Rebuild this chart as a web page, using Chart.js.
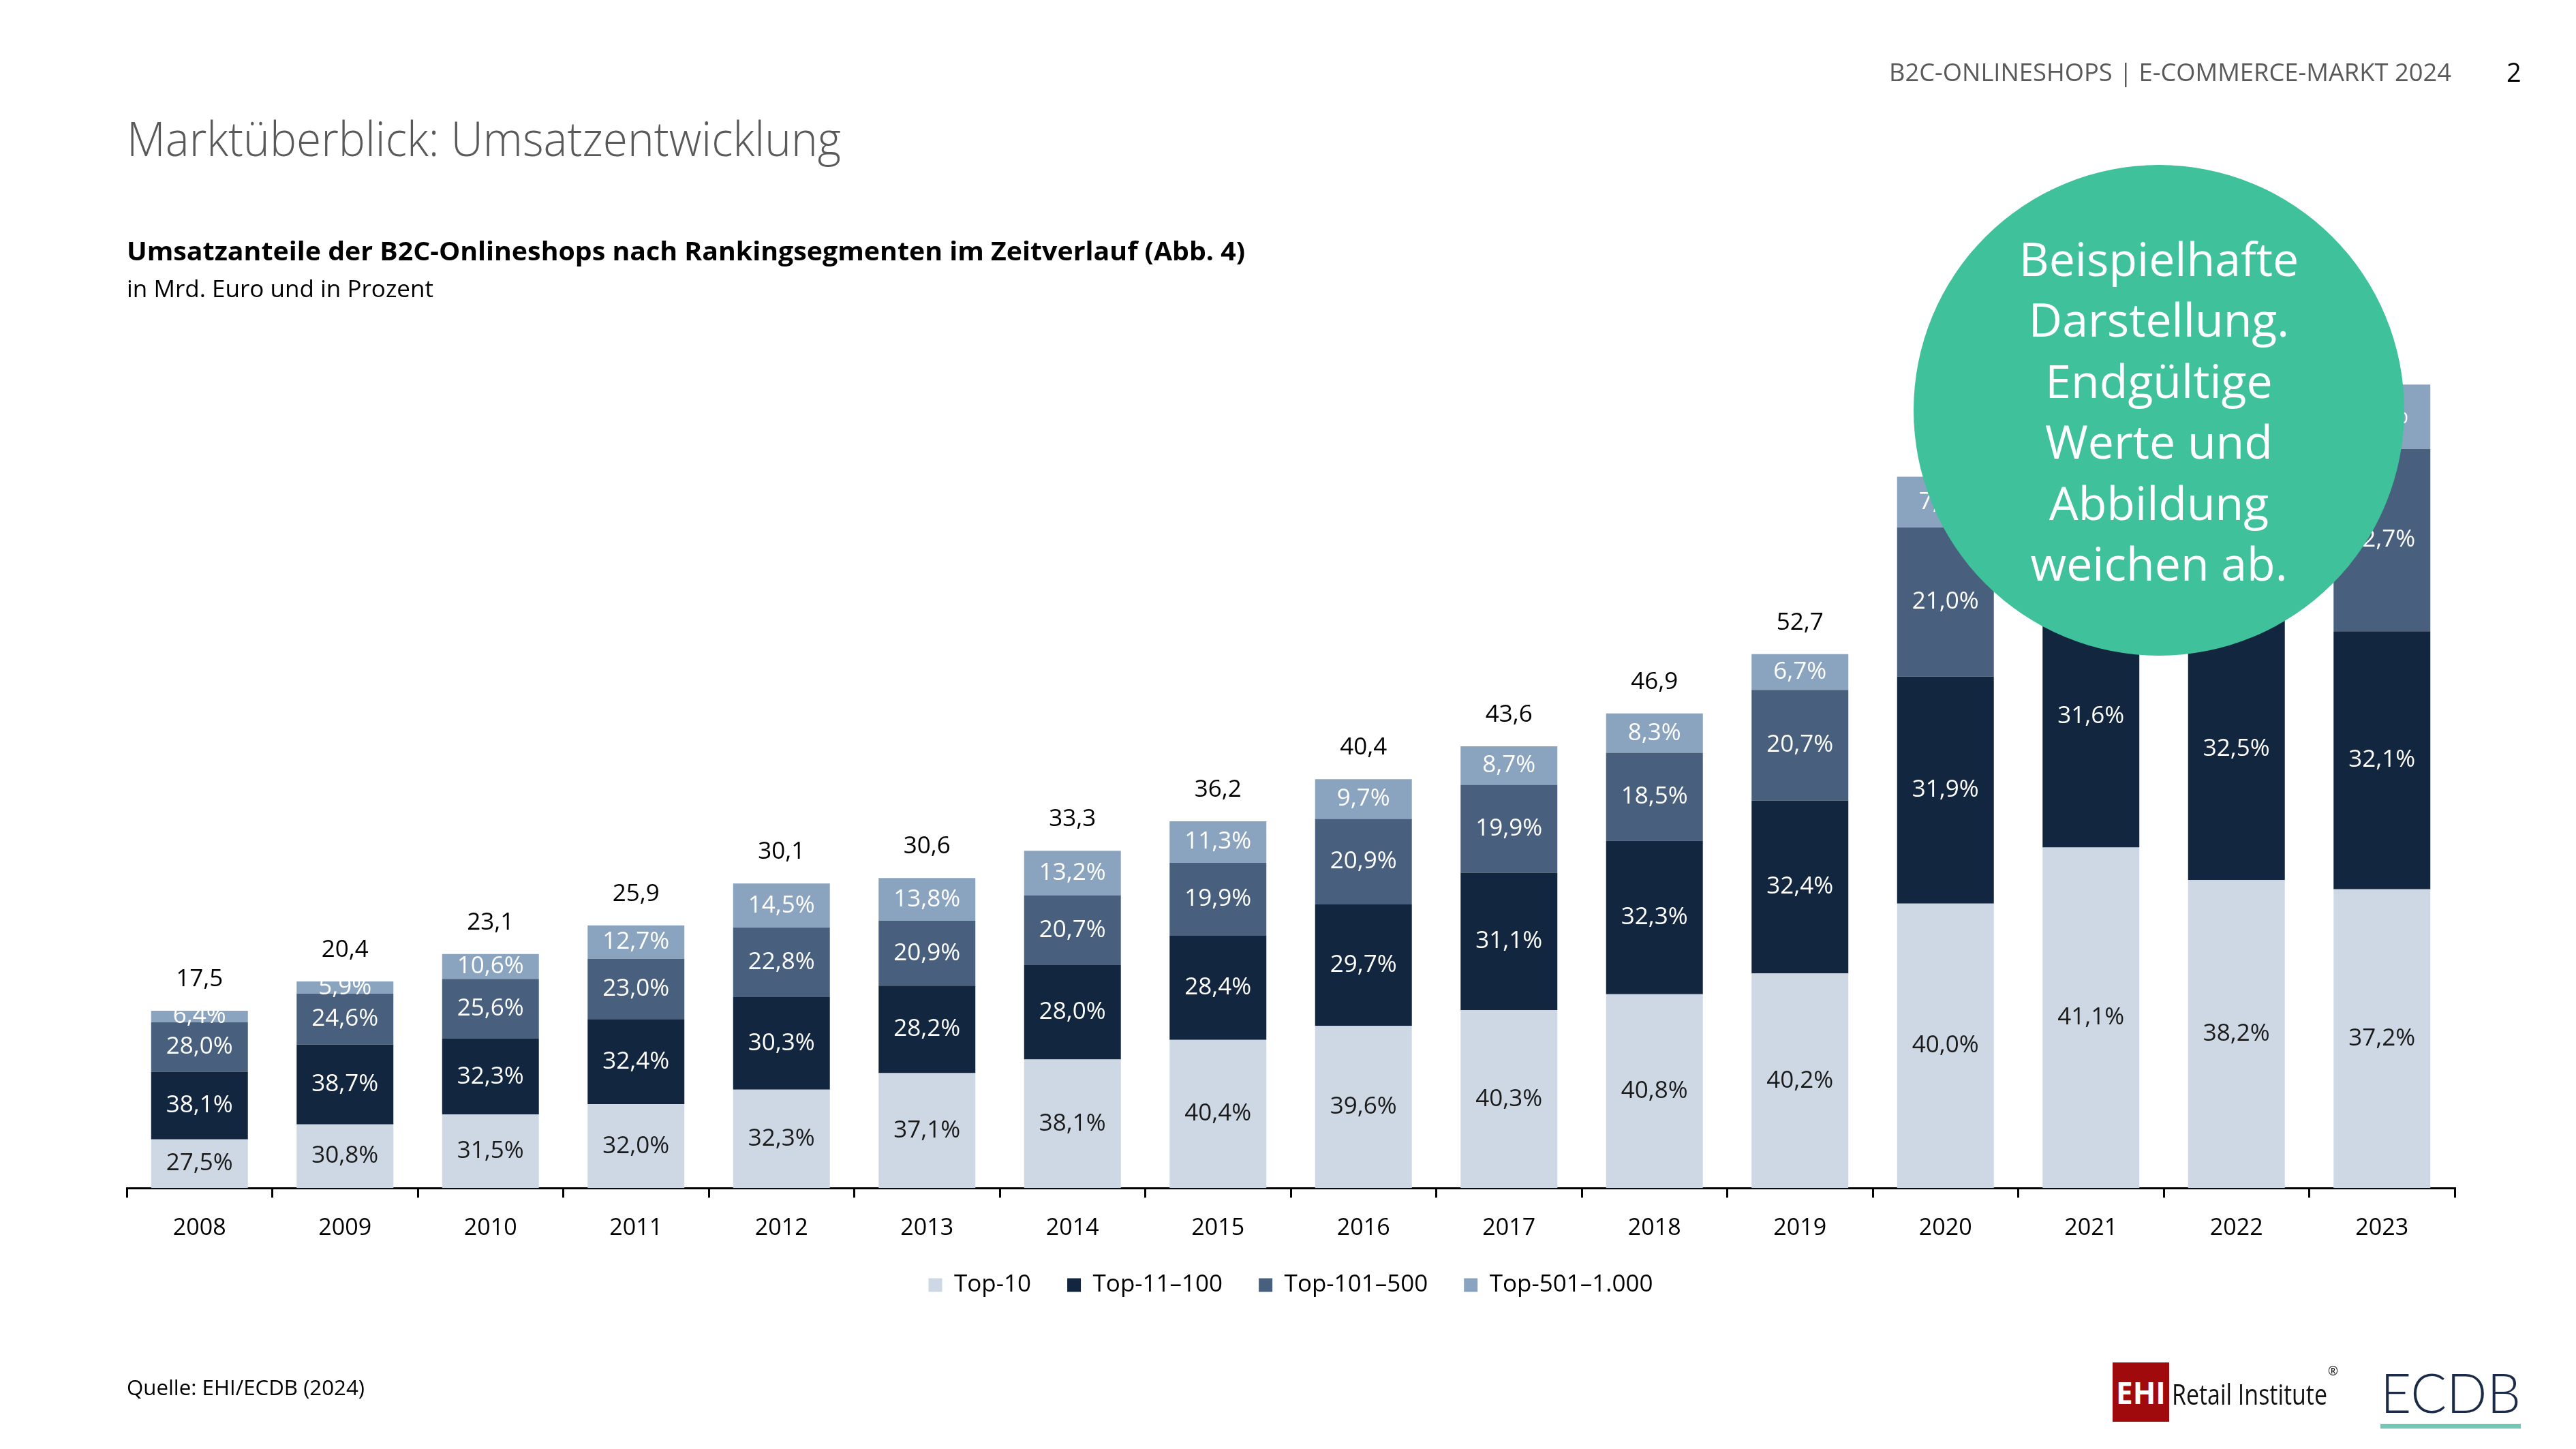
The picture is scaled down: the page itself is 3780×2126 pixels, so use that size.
<!DOCTYPE html>
<html><head><meta charset="utf-8">
<script src="https://cdn.jsdelivr.net/npm/chart.js@4.4.1/dist/chart.umd.min.js"></script>
<style>
html,body{margin:0;padding:0;background:#fff;}
#wrap{position:relative;width:3780px;height:2126px;overflow:hidden;font-family:"Open Sans",sans-serif;}
#c{position:absolute;left:0;top:0;}
.t{position:absolute;white-space:nowrap;line-height:1;transform-origin:0 50%;}
#circle{position:absolute;left:2808px;top:242px;width:720px;height:720px;border-radius:50%;background:#3FC19B;display:flex;flex-direction:column;align-items:center;justify-content:center;color:#fff;font-size:68px;line-height:89.5px;text-align:center;}
#ehibox{position:absolute;left:3100px;top:1999px;width:83px;height:87px;background:#A10A0C;color:#fff;font-weight:700;font-size:44px;display:flex;align-items:center;justify-content:center;}
#ecdbline{position:absolute;left:3493px;top:2089px;width:206px;height:7px;background:#74C6B5;}
</style></head><body>
<div id="wrap">
<canvas id="c" width="3780" height="2126" style="width:3780px;height:2126px"></canvas>
<div class="t fit" data-x="2772" data-y="106" data-w="825" style="font-size:37px;color:#595959">B2C-ONLINESHOPS | E-COMMERCE-MARKT 2024</div>
<div class="t" data-x="3678" data-y="106" style="font-size:38px;color:#000">2</div>
<div class="t fit" data-x="186" data-y="204" data-w="1048" style="font-size:70px;font-weight:300;color:#595959">Marktüberblick: Umsatzentwicklung</div>
<div class="t fit" data-x="186" data-y="369" data-w="1641" style="font-size:37px;font-weight:700;color:#000">Umsatzanteile der B2C-Onlineshops nach Rankingsegmenten im Zeitverlauf (Abb. 4)</div>
<div class="t fit" data-x="186" data-y="424" data-w="450" style="font-size:34px;color:#000">in Mrd. Euro und in Prozent</div>
<div class="t fit" data-x="186" data-y="2036" data-w="349" style="font-size:31px;color:#000">Quelle: EHI/ECDB (2024)</div>
<div id="circle"><div>Beispielhafte</div><div>Darstellung.</div><div>Endgültige</div><div>Werte und</div><div>Abbildung</div><div>weichen ab.</div></div>
<div id="ehibox">EHI</div>
<div class="t fit" data-x="3187" data-y="2046" data-w="228" style="font-size:42px;color:#111">Retail Institute</div>
<div class="t" data-x="3416" data-y="2012" style="font-size:18px;color:#111">®</div>
<div class="t fit" data-x="3493" data-y="2044" data-w="206" style="font-family:Lato;font-weight:300;font-size:80px;color:#1B2B47">ECDB</div>
<div id="ecdbline"></div>
</div>
<script>
// ---- data ----
const years = ['2008','2009','2010','2011','2012','2013','2014','2015','2016','2017','2018','2019','2020','2021','2022','2023'];
const totals = [17.5,20.4,23.1,25.9,30.1,30.6,33.3,36.2,40.4,43.6,46.9,52.7,70.2,81.8,79.6,79.3];
const pctTop10 = [27.5,30.8,31.5,32.0,32.3,37.1,38.1,40.4,39.6,40.3,40.8,40.2,40.0,41.1,38.2,37.2];
const pctTop11_100 = [38.1,38.7,32.3,32.4,30.3,28.2,28.0,28.4,29.7,31.1,32.3,32.4,31.9,31.6,32.5,32.1];
const pctTop101_500 = [28.0,24.6,25.6,23.0,22.8,20.9,20.7,19.9,20.9,19.9,18.5,20.7,21.0,20.1,21.6,22.7];
const pctTop501_1000 = [6.4,5.9,10.6,12.7,14.5,13.8,13.2,11.3,9.7,8.7,8.3,6.7,7.1,7.2,7.7,8.0];
const seriesNames = ['Top-10','Top-11–100','Top-101–500','Top-501–1.000'];
const seriesColors = ['#CED8E4','#13263F','#48607E','#8AA3BF'];
const labelColors = ['#1a1a1a','#ffffff','#ffffff','#ffffff'];
// totals whose labels are covered by the note circle in the original
const coveredTotalLabels = ['2020','2021','2022','2023'];

// ---- text placement ----
document.querySelectorAll('.t').forEach(el=>{
  const fs = parseFloat(el.style.fontSize);
  el.style.left = el.dataset.x+'px';
  el.style.top = (parseFloat(el.dataset.y) - 0.53*fs)+'px';
  if (el.dataset.w){
    const w = el.getBoundingClientRect().width;
    el.style.transform = 'scaleX('+(parseFloat(el.dataset.w)/w)+')';
  }
});

const FONT = '"Open Sans", sans-serif';
const fmt = v => v.toFixed(1).replace('.', ',');
const pcts = [pctTop10, pctTop11_100, pctTop101_500, pctTop501_1000];
const datasets = pcts.map((p,i)=>({
  label: seriesNames[i],
  data: p.map((v,j)=> totals[j]*v/100),
  pct: p,
  backgroundColor: seriesColors[i],
  borderWidth: 0,
  barPercentage: 0.665,
  categoryPercentage: 1.0
}));

const labelPlugin = {
  id:'lbl',
  afterDatasetsDraw(chart){
    const ctx = chart.ctx;
    ctx.save();
    ctx.font = '35px ' + FONT;
    ctx.textAlign = 'center';
    ctx.textBaseline = 'middle';
    chart.data.datasets.forEach((ds,i)=>{
      chart.getDatasetMeta(i).data.forEach((bar,j)=>{
        ctx.fillStyle = labelColors[i];
        ctx.fillText(fmt(ds.pct[j])+'%', bar.x, (bar.y+bar.base)/2);
      });
    });
    const topMeta = chart.getDatasetMeta(chart.data.datasets.length-1);
    topMeta.data.forEach((bar,j)=>{
      if (coveredTotalLabels.includes(years[j])) return;
      ctx.fillStyle = '#000';
      ctx.fillText(fmt(totals[j]), bar.x, bar.y - 46);
    });
    ctx.restore();
  }
};

new Chart(document.getElementById('c'), {
  type:'bar',
  data:{labels: years, datasets},
  options:{
    responsive:false,
    animation:false,
    devicePixelRatio:1,
    layout:{padding:{left:186,right:178,top:435,bottom:213}},
    plugins:{
      legend:{position:'bottom',labels:{boxWidth:20,boxHeight:20,padding:53,color:'#000',font:{size:35,family:FONT}}},
      tooltip:{enabled:false}
    },
    scales:{
      x:{stacked:true,
         grid:{drawOnChartArea:false,drawTicks:true,tickLength:14,color:'#000',lineWidth:3,offset:true},
         border:{display:true,color:'#000',width:3},
         ticks:{color:'#000',padding:25,font:{size:34,family:FONT}},
         afterFit:(s)=>{s.height -= 33;}
      },
      y:{stacked:true,display:false,min:0,max:88}
    }
  },
  plugins:[labelPlugin]
});
</script>
</body></html>
